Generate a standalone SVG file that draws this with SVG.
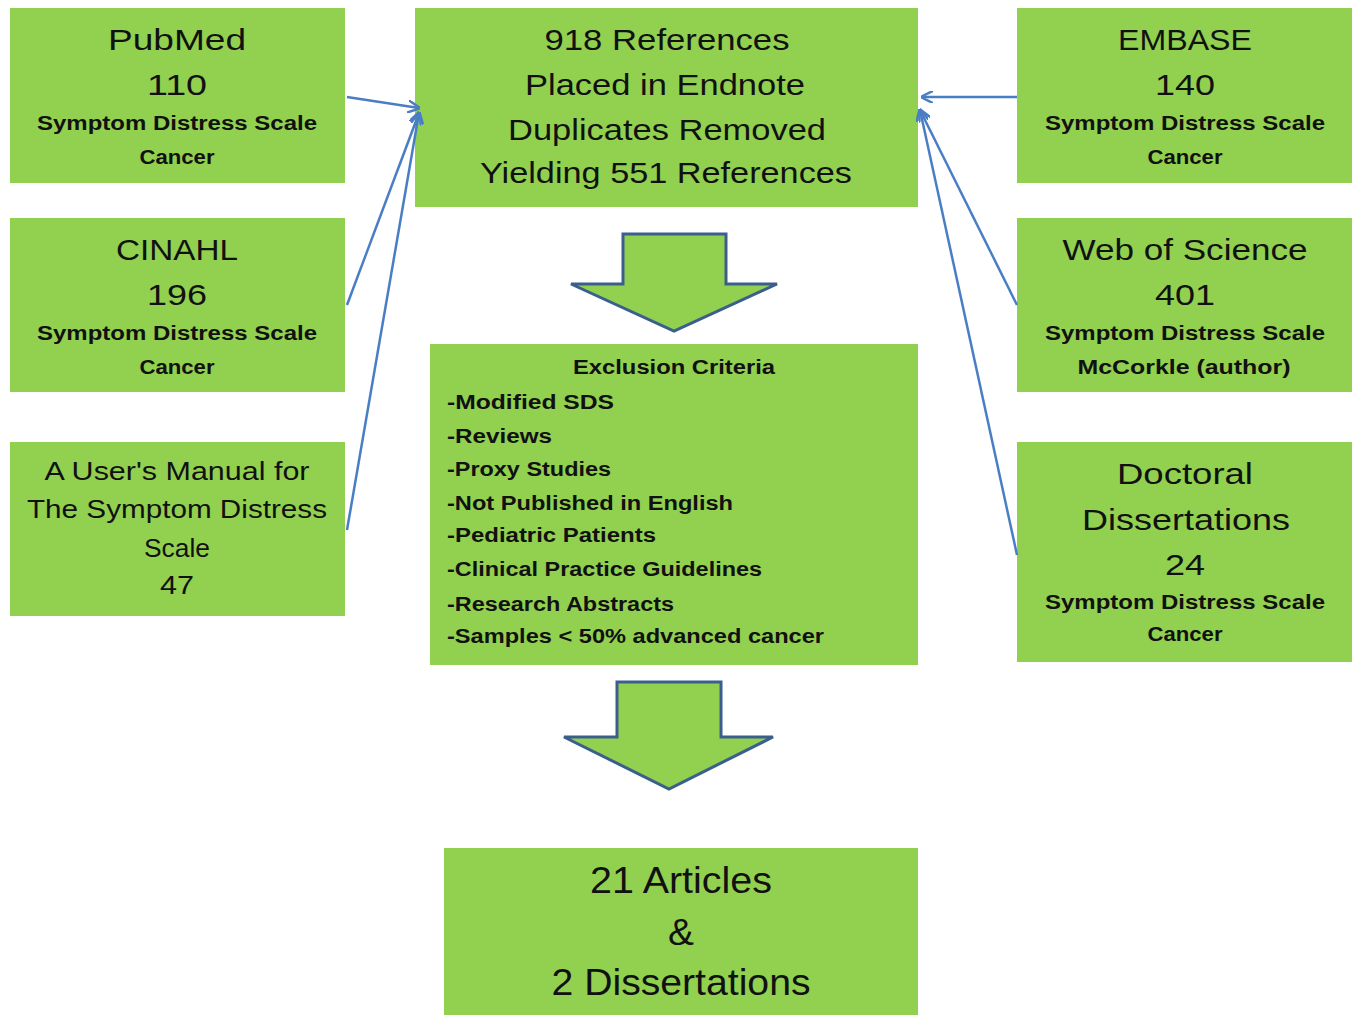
<svg xmlns="http://www.w3.org/2000/svg" width="1360" height="1015" viewBox="0 0 1360 1015">
<style>
.box{fill:#92D050;}
.t{font-family:"Liberation Sans",Arial,sans-serif;fill:#111;text-anchor:middle;}
.big{font-size:30px;}
.sm{font-size:20px;font-weight:bold;}
.ex{font-family:"Liberation Sans",Arial,sans-serif;fill:#111;font-size:20px;font-weight:bold;}
.con{stroke:#4A7EC4;stroke-width:2.5;fill:none;}
.blk{fill:#92D050;stroke:#3B5F8C;stroke-width:3;}
</style>
<defs>
<marker id="ah" viewBox="0 0 10 10" refX="9" refY="5" markerWidth="5" markerHeight="5" orient="auto" markerUnits="strokeWidth">
<path d="M0,0 L10,5 L0,10" fill="none" stroke="#4A7EC4" stroke-width="2"/>
</marker>
</defs>
<rect width="1360" height="1015" fill="#fff"/>
<g id="pubmed"><rect class="box" x="10" y="8" width="335" height="175"/>
<text class="t big" x="177" y="50" textLength="138" lengthAdjust="spacingAndGlyphs">PubMed</text>
<text class="t big" x="177" y="95" textLength="60" lengthAdjust="spacingAndGlyphs">110</text>
<text class="t sm" x="177" y="130" textLength="280" lengthAdjust="spacingAndGlyphs">Symptom Distress Scale</text>
<text class="t sm" x="177" y="164" textLength="75" lengthAdjust="spacingAndGlyphs">Cancer</text></g>
<g id="cinahl"><rect class="box" x="10" y="218" width="335" height="174"/>
<text class="t big" x="177" y="260" textLength="122" lengthAdjust="spacingAndGlyphs">CINAHL</text>
<text class="t big" x="177" y="305" textLength="60" lengthAdjust="spacingAndGlyphs">196</text>
<text class="t sm" x="177" y="340" textLength="280" lengthAdjust="spacingAndGlyphs">Symptom Distress Scale</text>
<text class="t sm" x="177" y="374" textLength="75" lengthAdjust="spacingAndGlyphs">Cancer</text></g>
<g id="manual"><rect class="box" x="10" y="442" width="335" height="174"/>
<text class="t" style="font-size:26px" x="177" y="480" textLength="265" lengthAdjust="spacingAndGlyphs">A User's Manual for</text>
<text class="t" style="font-size:26px" x="177" y="518" textLength="300" lengthAdjust="spacingAndGlyphs">The Symptom  Distress</text>
<text class="t" style="font-size:26px" x="177" y="557" textLength="66" lengthAdjust="spacingAndGlyphs">Scale</text>
<text class="t" style="font-size:26px" x="177" y="594" textLength="34" lengthAdjust="spacingAndGlyphs">47</text></g>
<g id="references"><rect class="box" x="415" y="8" width="503" height="199"/>
<text class="t big" x="667" y="50" textLength="245" lengthAdjust="spacingAndGlyphs">918 References</text>
<text class="t big" x="665" y="95" textLength="280" lengthAdjust="spacingAndGlyphs">Placed in Endnote</text>
<text class="t big" x="667" y="140" textLength="318" lengthAdjust="spacingAndGlyphs">Duplicates Removed</text>
<text class="t big" x="666" y="183" textLength="372" lengthAdjust="spacingAndGlyphs">Yielding 551 References</text></g>
<g id="embase"><rect class="box" x="1017" y="8" width="335" height="175"/>
<text class="t big" x="1185" y="50" textLength="134" lengthAdjust="spacingAndGlyphs">EMBASE</text>
<text class="t big" x="1185" y="95" textLength="60" lengthAdjust="spacingAndGlyphs">140</text>
<text class="t sm" x="1185" y="130" textLength="280" lengthAdjust="spacingAndGlyphs">Symptom Distress Scale</text>
<text class="t sm" x="1185" y="164" textLength="75" lengthAdjust="spacingAndGlyphs">Cancer</text></g>
<g id="wos"><rect class="box" x="1017" y="218" width="335" height="174"/>
<text class="t big" x="1185" y="260" textLength="245" lengthAdjust="spacingAndGlyphs">Web of Science</text>
<text class="t big" x="1185" y="305" textLength="60" lengthAdjust="spacingAndGlyphs">401</text>
<text class="t sm" x="1185" y="340" textLength="280" lengthAdjust="spacingAndGlyphs">Symptom Distress Scale</text>
<text class="t sm" x="1184" y="374" textLength="213" lengthAdjust="spacingAndGlyphs">McCorkle (author)</text></g>
<g id="doctoral"><rect class="box" x="1017" y="442" width="335" height="220"/>
<text class="t big" x="1185" y="484" textLength="136" lengthAdjust="spacingAndGlyphs">Doctoral</text>
<text class="t big" x="1186" y="530" textLength="208" lengthAdjust="spacingAndGlyphs">Dissertations</text>
<text class="t big" x="1185" y="575" textLength="40" lengthAdjust="spacingAndGlyphs">24</text>
<text class="t sm" x="1185" y="609" textLength="280" lengthAdjust="spacingAndGlyphs">Symptom Distress Scale</text>
<text class="t sm" x="1185" y="641" textLength="75" lengthAdjust="spacingAndGlyphs">Cancer</text></g>
<g id="exclusion"><rect class="box" x="430" y="344" width="488" height="321"/>
<text class="t sm" x="674" y="374" textLength="202" lengthAdjust="spacingAndGlyphs">Exclusion  Criteria</text>
<text class="ex" x="447" y="409" textLength="167" lengthAdjust="spacingAndGlyphs">-Modified  SDS</text>
<text class="ex" x="447" y="443" textLength="105" lengthAdjust="spacingAndGlyphs">-Reviews</text>
<text class="ex" x="447" y="476" textLength="164" lengthAdjust="spacingAndGlyphs">-Proxy Studies</text>
<text class="ex" x="447" y="510" textLength="286" lengthAdjust="spacingAndGlyphs">-Not  Published  in  English</text>
<text class="ex" x="447" y="542" textLength="209" lengthAdjust="spacingAndGlyphs">-Pediatric Patients</text>
<text class="ex" x="447" y="576" textLength="315" lengthAdjust="spacingAndGlyphs">-Clinical  Practice  Guidelines</text>
<text class="ex" x="447" y="611" textLength="227" lengthAdjust="spacingAndGlyphs">-Research Abstracts</text>
<text class="ex" x="447" y="643" textLength="377" lengthAdjust="spacingAndGlyphs">-Samples &lt; 50% advanced cancer</text></g>
<g id="final"><rect class="box" x="444" y="848" width="474" height="167"/>
<text class="t" style="font-size:37px" x="681" y="893" textLength="182" lengthAdjust="spacingAndGlyphs">21 Articles</text>
<text class="t" style="font-size:37px" x="681" y="945" textLength="26" lengthAdjust="spacingAndGlyphs">&amp;</text>
<text class="t" style="font-size:37px" x="681" y="995" textLength="259" lengthAdjust="spacingAndGlyphs">2 Dissertations</text></g>
<g id="arrow1"><path class="blk" d="M623,234 L726,234 L726,284 L777,284 L674,331 L571,284 L623,284 Z"/></g>
<g id="arrow2"><path class="blk" d="M617,682 L721,682 L721,737 L773,737 L669,789 L564,737 L617,737 Z"/></g>
<g id="connectors">
<line class="con" x1="347" y1="97" x2="419" y2="108" marker-end="url(#ah)"/>
<line class="con" x1="347" y1="305" x2="419" y2="113" marker-end="url(#ah)"/>
<line class="con" x1="347" y1="530" x2="419" y2="113" marker-end="url(#ah)"/>
<line class="con" x1="1017" y1="97" x2="922" y2="97" marker-end="url(#ah)"/>
<line class="con" x1="1017" y1="305" x2="920" y2="110" marker-end="url(#ah)"/>
<line class="con" x1="1017" y1="555" x2="920" y2="110" marker-end="url(#ah)"/>
</g>
</svg>
